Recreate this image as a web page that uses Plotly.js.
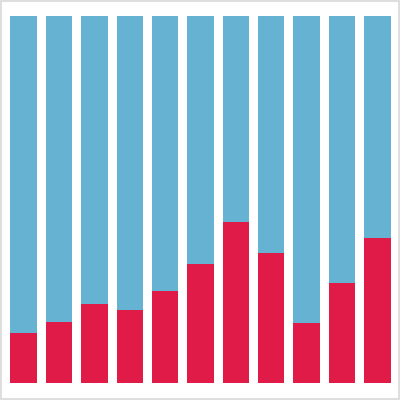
<!DOCTYPE html>
<html>
<head>
<meta charset="utf-8">
<script src="https://cdn.plot.ly/plotly-3.0.1.min.js"></script>
<style>
  html, body { margin: 0; padding: 0; background: #fff; }
  #frame { position: absolute; left: 0; top: 0; width: 400px; height: 400px; box-sizing: border-box; border: 2px solid #dedede; }
  #chart { position: absolute; left: 2px; top: 2px; width: 396px; height: 396px; }
</style>
</head>
<body>
<div id="frame"></div>
<div id="chart"></div>
<script>
const categories = ["1", "2", "3", "4", "5", "6", "7", "8", "9", "10", "11"];
const redShare = [13.5, 16.6, 21.4, 19.9, 25.2, 32.3, 44.0, 35.5, 16.3, 27.2, 39.4];
const blueShare = [86.5, 83.4, 78.6, 80.1, 74.8, 67.7, 56.0, 64.5, 83.7, 72.8, 60.6];

const traces = [
  { type: "bar", x: categories, y: redShare, marker: { color: "#E11B48", line: { width: 0 } }, hoverinfo: "none" },
  { type: "bar", x: categories, y: blueShare, marker: { color: "#66B2D2", line: { width: 0 } }, hoverinfo: "none" }
];

const layout = {
  width: 396, height: 396,
  margin: { l: 4, r: 3, t: 14, b: 15, pad: 0 },
  barmode: "stack",
  bargap: 0.25,
  showlegend: false,
  paper_bgcolor: "#ffffff",
  plot_bgcolor: "#ffffff",
  xaxis: { type: "category", visible: false, showgrid: false, zeroline: false },
  yaxis: { range: [0, 100], visible: false, showgrid: false, zeroline: false }
};

Plotly.newPlot("chart", traces, layout, { staticPlot: true, displayModeBar: false });
</script>
</body>
</html>
